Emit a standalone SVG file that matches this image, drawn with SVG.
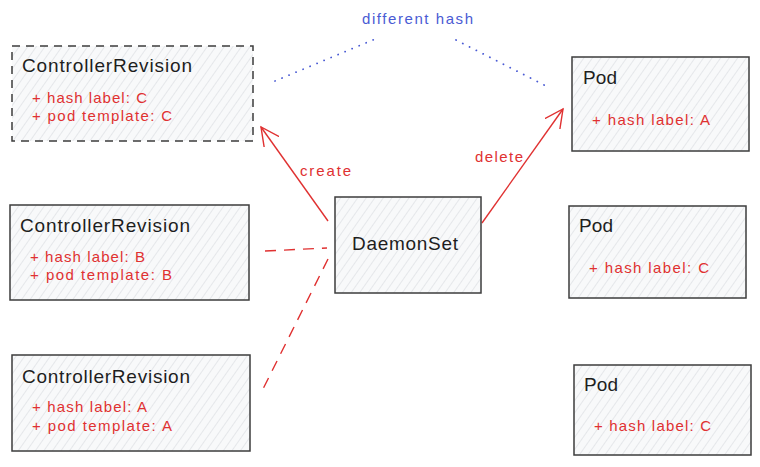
<svg xmlns="http://www.w3.org/2000/svg" width="760" height="467" viewBox="0 0 760 467">
<defs>
<pattern id="hatch" patternUnits="userSpaceOnUse" width="7" height="7" patternTransform="rotate(35)">
<rect width="7" height="7" fill="#f8f9fa"/>
<line x1="0" y1="0" x2="0" y2="7" stroke="#d3d6da" stroke-width="1"/>
</pattern>
<marker id="arr" viewBox="0 0 20 20" refX="18" refY="10" markerWidth="20" markerHeight="20" markerUnits="userSpaceOnUse" orient="auto">
<path d="M0,1 L18,10 L0,19" fill="none" stroke="#e03131" stroke-width="1.4" stroke-linecap="round"/>
</marker>
</defs>
<style>
.box{fill:url(#hatch);stroke:#3d3d3d;stroke-width:1.5}
.dash{stroke-dasharray:8 6}
.t{font-family:"Liberation Sans",Arial,sans-serif;fill:#1e1e1e;font-size:19px}
.r{font-family:"Liberation Sans",Arial,sans-serif;fill:#e03131;font-size:15px}
.b{font-family:"Liberation Sans",Arial,sans-serif;fill:#4a5bd4;font-size:15px}
.ar{fill:none;stroke:#e03131;stroke-width:1.4}
.rd{fill:none;stroke:#e03131;stroke-width:1.4;stroke-dasharray:11 8}
.bd{fill:none;stroke:#4a5bd4;stroke-width:1.8;stroke-dasharray:0.1 7.5;stroke-linecap:round}
</style>
<rect width="760" height="467" fill="#ffffff"/>
<g id="connectors">
<line class="bd" x1="275" y1="81" x2="380" y2="37"/>
<line class="bd" x1="456" y1="40" x2="550" y2="88"/>
<line class="ar" x1="328" y1="221" x2="261" y2="127" marker-end="url(#arr)"/>
<line class="ar" x1="482" y1="223" x2="563" y2="109" marker-end="url(#arr)"/>
<line class="rd" x1="265" y1="251" x2="327" y2="248"/>
<line class="rd" x1="328" y1="259" x2="263" y2="389"/>
<text class="r" x="300" y="176" textLength="51">create</text>
<text class="r" x="475" y="162" textLength="48">delete</text>
<text class="b" x="362" y="24" textLength="111">different hash</text>
</g>
<g id="cr-c">
<rect class="box dash" x="12" y="46" width="241" height="95"/>
<text class="t" x="22" y="72" textLength="170">ControllerRevision</text>
<text class="r" x="32" y="103" textLength="115">+ hash label: C</text>
<text class="r" x="32" y="121" textLength="140">+ pod template: C</text>
</g>
<g id="cr-b">
<rect class="box" x="10" y="205" width="239" height="95"/>
<text class="t" x="20" y="232" textLength="170">ControllerRevision</text>
<text class="r" x="30" y="262" textLength="115">+ hash label: B</text>
<text class="r" x="30" y="280" textLength="142">+ pod template: B</text>
</g>
<g id="cr-a">
<rect class="box" x="12" y="355" width="238" height="96"/>
<text class="t" x="22" y="383" textLength="168">ControllerRevision</text>
<text class="r" x="32" y="412" textLength="115">+ hash label: A</text>
<text class="r" x="32" y="431" textLength="140">+ pod template: A</text>
</g>
<g id="daemonset">
<rect class="box" x="335" y="197" width="146" height="96"/>
<text class="t" x="352" y="250" textLength="106">DaemonSet</text>
</g>
<g id="pod-a">
<rect class="box" x="572" y="57" width="177" height="94"/>
<text class="t" x="583" y="84" textLength="34">Pod</text>
<text class="r" x="592" y="125" textLength="118">+ hash label: A</text>
</g>
<g id="pod-c1">
<rect class="box" x="569" y="206" width="177" height="92"/>
<text class="t" x="579" y="232" textLength="34">Pod</text>
<text class="r" x="589" y="273" textLength="120">+ hash label: C</text>
</g>
<g id="pod-c2">
<rect class="box" x="574" y="365" width="177" height="90"/>
<text class="t" x="584" y="391" textLength="34">Pod</text>
<text class="r" x="594" y="431" textLength="117">+ hash label: C</text>
</g>
</svg>
